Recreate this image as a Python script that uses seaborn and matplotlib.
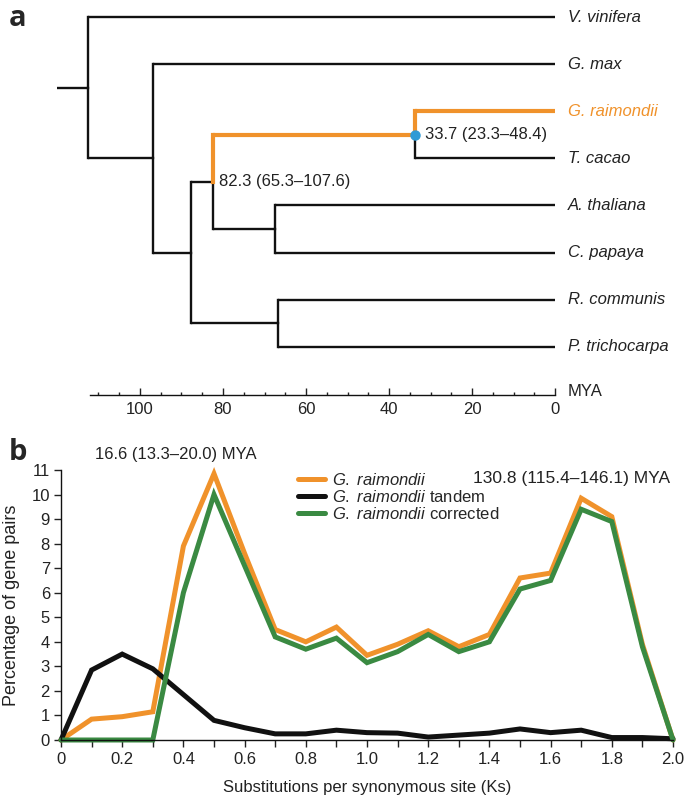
import numpy as np
import pandas as pd
import matplotlib
matplotlib.use("Agg")
import matplotlib.pyplot as plt
from matplotlib.lines import Line2D
from matplotlib.ticker import MultipleLocator, FixedLocator
import seaborn as sns

sns.set_theme(style="white")
plt.rcParams['font.family'] = ['Liberation Sans', 'DejaVu Sans']
plt.rcParams['mathtext.fontset'] = 'custom'
plt.rcParams['mathtext.it'] = 'Liberation Sans:italic'
plt.rcParams['mathtext.rm'] = 'Liberation Sans'

# ---------------- data: panel a (tree) ----------------
tips = ["V. vinifera", "G. max", "G. raimondii", "T. cacao",
        "A. thaliana", "C. papaya", "R. communis", "P. trichocarpa"]
root_age = 120.0
node_names = ["root", "n_gmax", "n_rosid", "n_823", "n_337", "n_ac", "n_rp"]
node_ages = [112.6, 96.9, 87.7, 82.3, 33.7, 67.5, 66.7]
node_children = [["V. vinifera", "n_gmax"],
                 ["G. max", "n_rosid"],
                 ["n_823", "n_rp"],
                 ["n_337", "n_ac"],
                 ["G. raimondii", "T. cacao"],
                 ["A. thaliana", "C. papaya"],
                 ["R. communis", "P. trichocarpa"]]
node_labels = {"n_823": "82.3 (65.3\u2013107.6)", "n_337": "33.7 (23.3\u201348.4)"}
highlight = {"G. raimondii", "n_337"}
mya_major = [0, 20, 40, 60, 80, 100]
mya_minor = [5, 10, 15, 25, 30, 35, 45, 50, 55, 65, 70, 75, 85, 90, 95, 105, 110]

# ---------------- data: panel b ----------------
ks = [0.0, 0.1, 0.2, 0.3, 0.4, 0.5, 0.6, 0.7, 0.8, 0.9, 1.0,
      1.1, 1.2, 1.3, 1.4, 1.5, 1.6, 1.7, 1.8, 1.9, 2.0]
graimondii = [0.0, 0.85, 0.95, 1.15, 7.9, 10.85, 7.6, 4.5, 4.0, 4.6, 3.45,
              3.9, 4.45, 3.8, 4.3, 6.6, 6.8, 9.85, 9.1, 3.9, 0.0]
tandem = [0.0, 2.85, 3.5, 2.9, 1.85, 0.8, 0.5, 0.25, 0.25, 0.4, 0.3,
          0.28, 0.12, 0.2, 0.28, 0.45, 0.3, 0.4, 0.1, 0.1, 0.05]
corrected = [0.0, 0.0, 0.0, 0.0, 6.0, 10.0, 7.1, 4.2, 3.7, 4.15, 3.15,
             3.6, 4.3, 3.6, 4.0, 6.15, 6.5, 9.4, 8.9, 3.8, 0.0]
series_names = ["G. raimondii", "G. raimondii tandem", "G. raimondii corrected"]

ORANGE = "#F0922B"
GREEN = "#3A8A42"
BLACK = "#111111"
TXT = "#222222"
BLUE = "#2E9BD6"

W, H = 685, 798
fig = plt.figure(figsize=(W / 100, H / 100), dpi=100)

# ================= panel a =================
A_H = 440
axA = fig.add_axes([0, 1 - A_H / H, 1, A_H / H])
px_per_mya = 4.15
x0px = 555
axA.set_xlim(x0px / px_per_mya, (x0px - W) / px_per_mya)
tip_px0, tip_step = 17, 47.1
axA.set_ylim((A_H - tip_px0) / tip_step, -tip_px0 / tip_step)

age = {t: 0.0 for t in tips}
ypos = {t: i for i, t in enumerate(tips)}
children = dict(zip(node_names, node_children))
for n, a in zip(node_names, node_ages):
    age[n] = a

def get_y(n):
    if n in ypos:
        return ypos[n]
    ys = [get_y(c) for c in children[n]]
    ypos[n] = (min(ys) + max(ys)) / 2
    return ypos[n]

get_y("root")
lw_b, lw_o = 1.7, 3.0
axA.plot([root_age, age["root"]], [ypos["root"]] * 2, color=BLACK, lw=lw_b,
         solid_capstyle="butt")
for n in node_names:
    for c in children[n]:
        hl = c in highlight
        col = ORANGE if hl else BLACK
        lw = lw_o if hl else lw_b
        axA.plot([age[n], age[n]], [ypos[n], ypos[c]], color=col, lw=lw,
                 solid_capstyle="projecting", zorder=3 if hl else 2)
        axA.plot([age[n], age[c]], [ypos[c], ypos[c]], color=col, lw=lw,
                 solid_capstyle="butt", zorder=3 if hl else 2)

for t in tips:
    col = ORANGE if t in highlight else TXT
    axA.annotate(t, (0, ypos[t]), xytext=(9, 0), textcoords="offset points",
                 ha="left", va="center", fontsize=12, style="italic", color=col)
for n, lab in node_labels.items():
    off = 7 if n == "n_337" else 4
    axA.annotate(lab, (age[n], ypos[n]), xytext=(off, 0), textcoords="offset points",
                 ha="left", va="center", fontsize=12, color=TXT)
axA.plot([age["n_337"]], [ypos["n_337"]], "o", color=BLUE, ms=6.5, zorder=5)

for s in ["top", "right", "left"]:
    axA.spines[s].set_visible(False)
axA.spines["bottom"].set_position(("data", (395 - tip_px0) / tip_step))
axA.spines["bottom"].set_bounds(0, 112)
axA.spines["bottom"].set_color(BLACK)
axA.spines["bottom"].set_linewidth(1.0)
axA.xaxis.set_major_locator(FixedLocator(mya_major))
axA.xaxis.set_minor_locator(FixedLocator(mya_minor))
axA.tick_params(axis="x", which="major", direction="in", length=5, width=1.0,
                labelsize=12, pad=5, colors=TXT, bottom=True)
axA.tick_params(axis="x", which="minor", direction="in", length=2.5, width=1.0,
                bottom=True, color=TXT)
axA.set_yticks([])
axA.patch.set_alpha(0)
fig.text(568 / W, 1 - 392 / H, "MYA", fontsize=12, ha="left", va="center", color=TXT)

fig.text(9 / W, 1 - 19 / H, "a", fontsize=21, fontweight="bold", ha="left",
         va="center", family=["Open Sans", "DejaVu Sans"])
fig.text(9 / W, 1 - 452 / H, "b", fontsize=21, fontweight="bold", ha="left",
         va="center", family=["Open Sans", "DejaVu Sans"])

# ================= panel b =================
left, right, top, bottom = 61, 673, 470, 740
axB = fig.add_axes([left / W, 1 - bottom / H, (right - left) / W, (bottom - top) / H])
df = pd.DataFrame({
    "Ks": ks * 3,
    "pct": graimondii + tandem + corrected,
    "series": [series_names[0]] * len(ks) + [series_names[1]] * len(ks)
              + [series_names[2]] * len(ks),
})
colors = {series_names[0]: ORANGE, series_names[1]: BLACK, series_names[2]: GREEN}
for name in series_names:
    sub = df[df["series"] == name]
    sns.lineplot(data=sub, x="Ks", y="pct", color=colors[name], lw=3.6, ax=axB,
                 legend=False, solid_joinstyle="miter", clip_on=False)

axB.set_xlim(0, 2.0)
axB.set_ylim(0, 11)
axB.xaxis.set_major_locator(MultipleLocator(0.1))
axB.set_xticklabels(["0" if abs(v) < 1e-9 else (f"{v:.1f}" if round(v * 10) % 2 == 0 else "")
                     for v in axB.get_xticks()])
axB.set_yticks(range(0, 12))
axB.tick_params(axis="both", direction="out", length=5, width=1.0, labelsize=12,
                colors=TXT, bottom=True, left=True)
axB.tick_params(axis="x", pad=4)
axB.tick_params(axis="y", pad=3)
for s in ["top", "right"]:
    axB.spines[s].set_visible(False)
for s in ["left", "bottom"]:
    axB.spines[s].set_color(BLACK)
    axB.spines[s].set_linewidth(1.0)
axB.set_xlabel("Substitutions per synonymous site (Ks)", fontsize=12, color=TXT,
               labelpad=9)
axB.set_ylabel("Percentage of gene pairs", fontsize=13, color=TXT, labelpad=8)
axB.patch.set_alpha(0)

handles = [Line2D([], [], color=ORANGE, lw=3.6),
           Line2D([], [], color=BLACK, lw=3.6),
           Line2D([], [], color=GREEN, lw=3.6)]
labels = [r"$\it{G.\ raimondii}$",
          r"$\it{G.\ raimondii}$ tandem",
          r"$\it{G.\ raimondii}$ corrected"]
fig.legend(handles, labels, loc="upper left",
           bbox_to_anchor=(298 / W, 1 - 472 / H), bbox_transform=fig.transFigure,
           frameon=False, fontsize=12, handlelength=1.6, handletextpad=0.45,
           labelspacing=0.05, borderpad=0, borderaxespad=0)

fig.text(95 / W, 1 - 455 / H, "16.6 (13.3\u201320.0) MYA", fontsize=12,
         ha="left", va="center", color=TXT)
fig.text(670 / W, 1 - 478 / H, "130.8 (115.4\u2013146.1) MYA", fontsize=12.5,
         ha="right", va="center", color=TXT)

fig.savefig("out.png", dpi=100)
